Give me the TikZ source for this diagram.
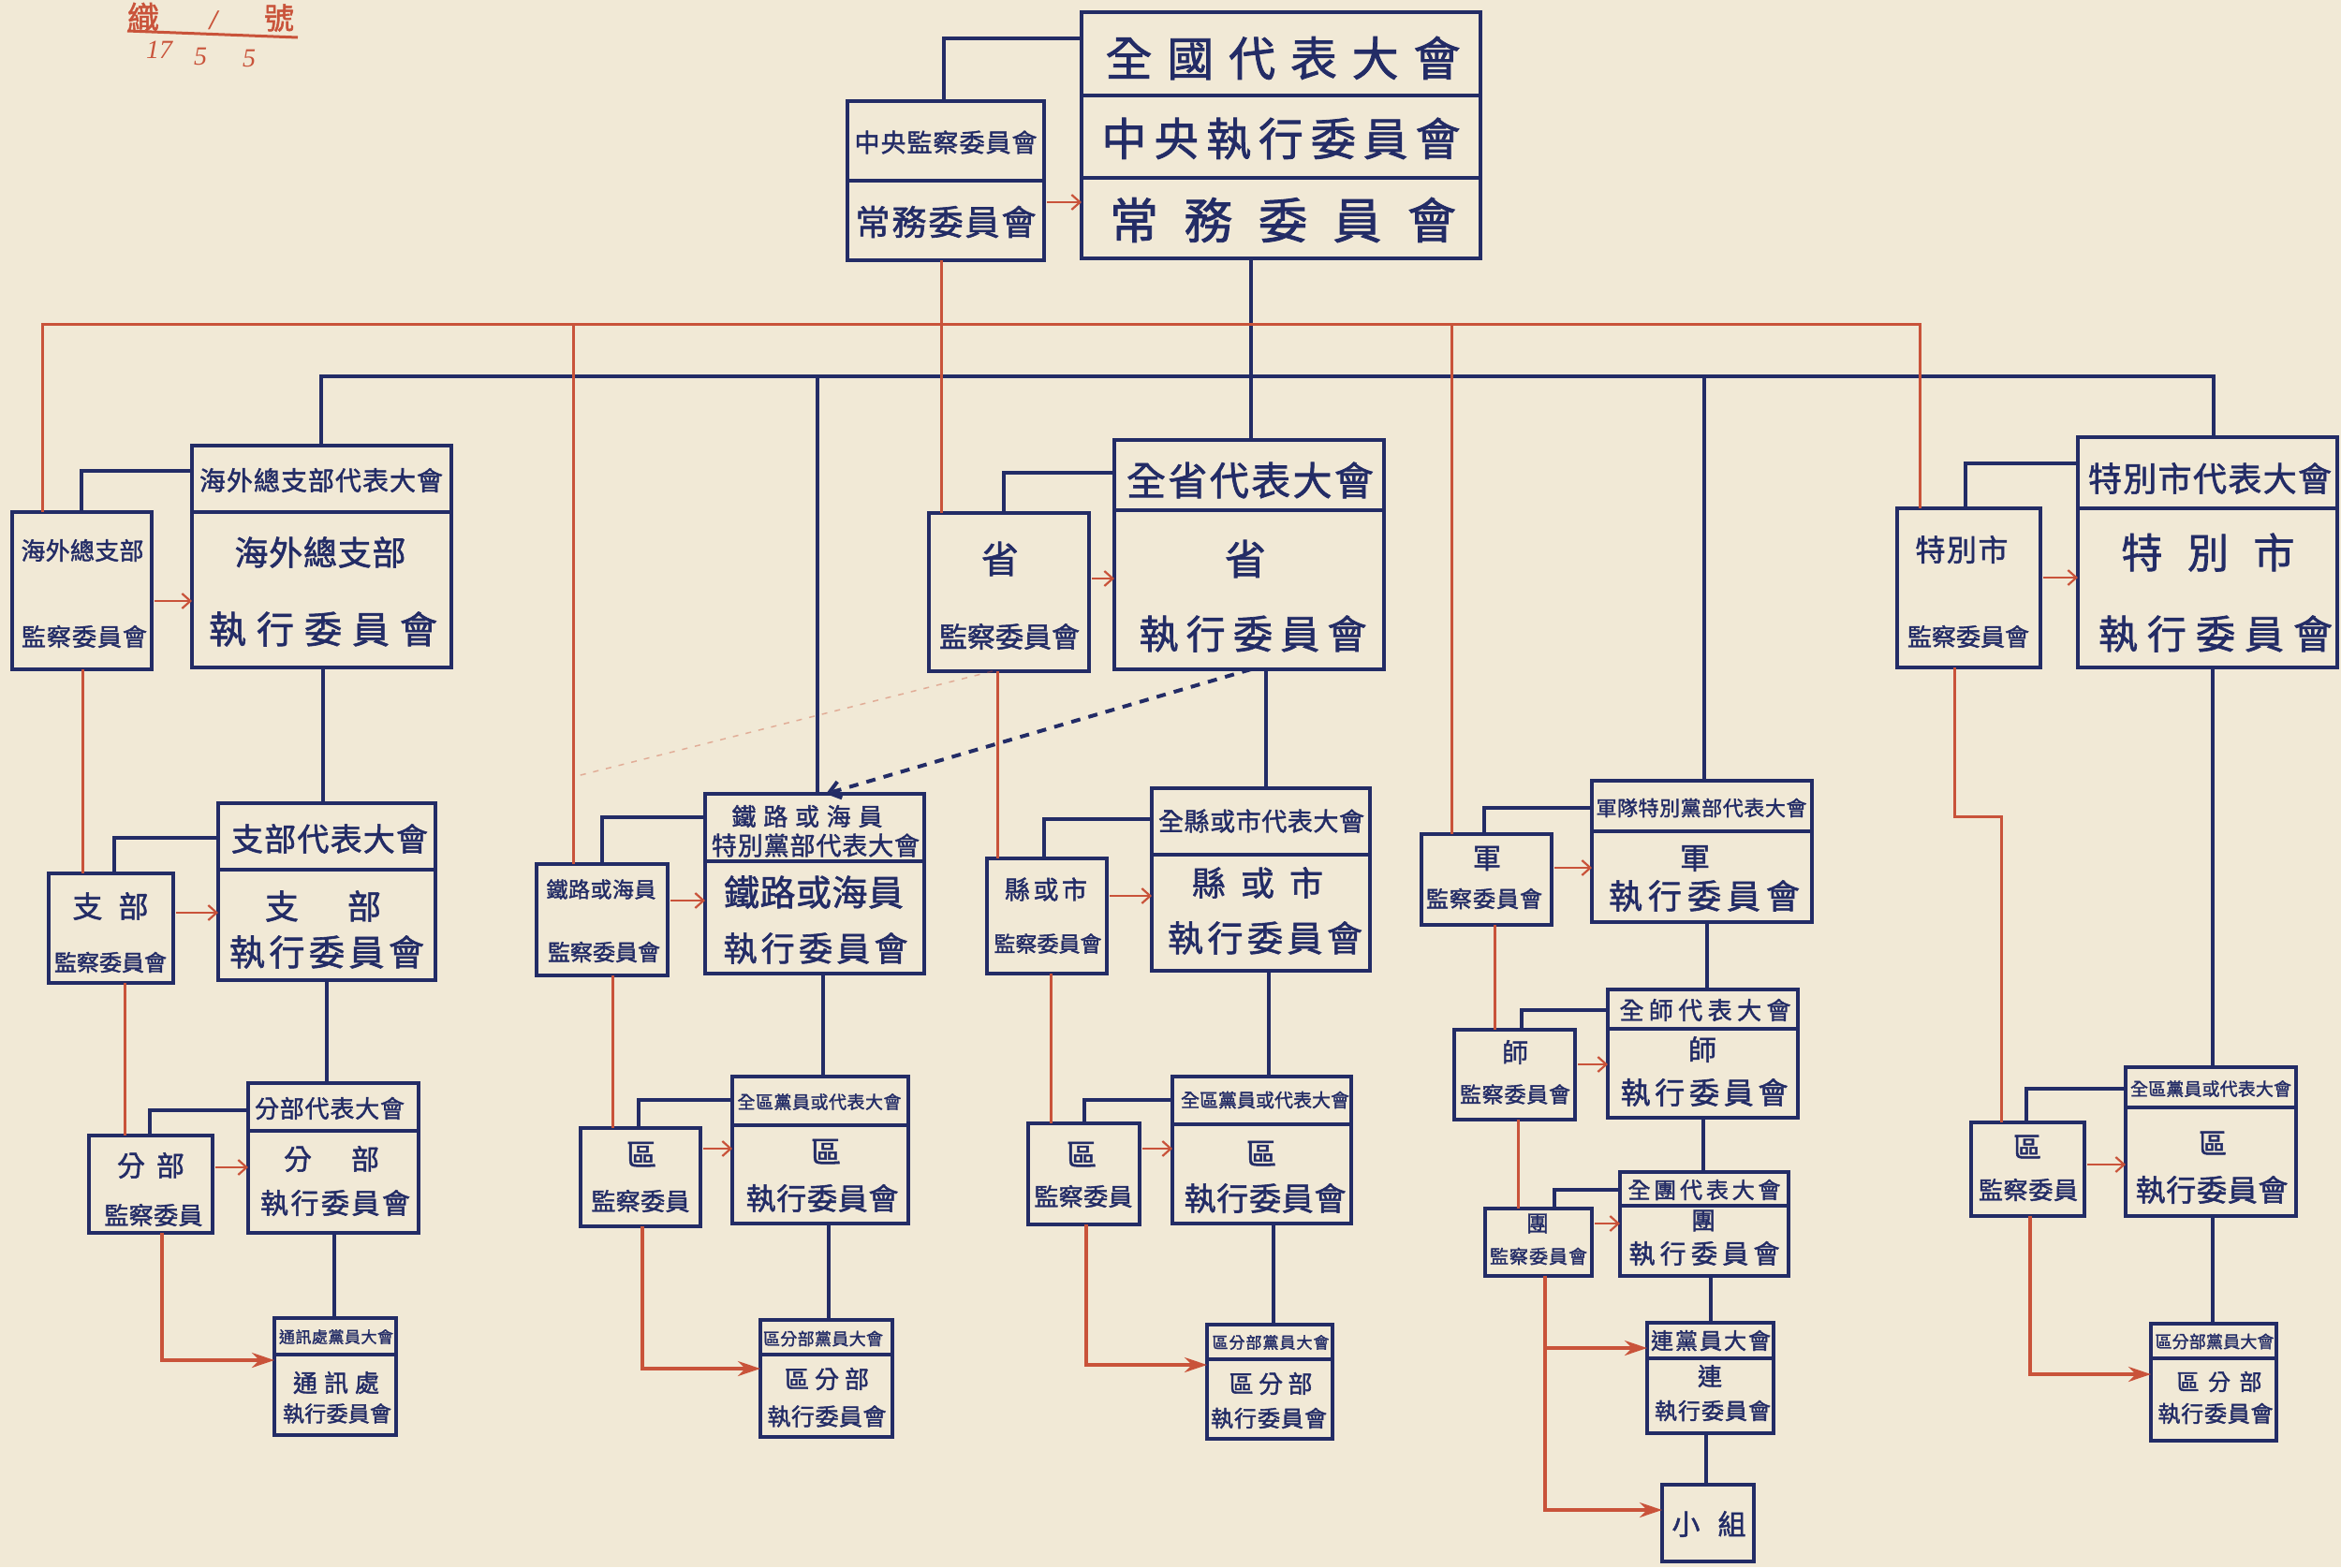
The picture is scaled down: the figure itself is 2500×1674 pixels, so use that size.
\documentclass[tikz,border=0pt]{standalone}
\usepackage{fontspec}
\setmainfont{Liberation Serif}
\newfontfamily\cjk{Noto Sans CJK TC}[FakeBold=1.6]
\usetikzlibrary{fit,arrows.meta}
\definecolor{paper}{HTML}{F1E9D6}
\definecolor{ink}{HTML}{232C66}
\definecolor{rd}{HTML}{C9533A}
\def\spreadloop#1{\ifx#1\relax\else\hfil#1\expandafter\spreadloop\fi}
\def\spreadfirst#1{#1\spreadloop}
\newcommand\spr[2]{\makebox[#1][s]{\spreadfirst#2\relax}}
\newcounter{tnum}
\newcommand\tx[5]{\stepcounter{tnum}\node[txt] (t\arabic{tnum}) at (#1,#2) {\fontsize{#3pt}{#3pt}\selectfont\spr{#4pt}{#5}};}
\newcommand\tc[4]{\stepcounter{tnum}\node[txt] (t\arabic{tnum}) at (#1,#2) {\fontsize{#3pt}{#3pt}\selectfont #4};}
\newcommand\bx[5]{\coordinate (#1-nw) at (#2,#3); \coordinate (#1-se) at (#4,#5); \node[bxs, fit=(#1-nw)(#1-se)] (#1) {};}
\tikzset{
 bxs/.style={draw=ink, line width=4pt, inner sep=0pt, outer sep=0pt},
 txt/.style={text=ink, inner sep=0pt, font=\cjk, anchor=center},
 stamp/.style={text=rd, inner sep=0pt, anchor=center},
 bl/.style={draw=ink, line width=3.5pt},
 rl/.style={draw=rd, line width=3pt},
 ra/.style={draw=rd, line width=2.2pt, shorten <=3pt, -{Straight Barb[length=9pt,width=16pt]}},
 rb/.style={draw=rd, line width=3.5pt, -{Stealth[length=24pt,width=16pt]}},
 dl/.style={draw=ink, line width=4pt, dash pattern=on 10pt off 9pt, -{Straight Barb[length=12pt,width=18pt]}},
}
\begin{document}
\begin{tikzpicture}[x=1pt,y=-1pt]
\useasboundingbox (0,0) rectangle (2500,1674);
\fill[paper] (0,0) rectangle (2500,1674);

% ---------- boxes ----------
\bx{T1}{1155}{13}{1581}{102}
\bx{T2}{1155}{102}{1581}{190}
\bx{T3}{1155}{190}{1581}{276}
\bx{C1}{905}{108}{1115}{193}
\bx{C2}{905}{193}{1115}{278}

\bx{Os}{13}{547}{162}{715}
\bx{Oh}{205}{476}{482}{547}
\bx{Ob}{205}{547}{482}{713}

\bx{Bs}{52}{933}{185}{1050}
\bx{Bh}{233}{858}{465}{929}
\bx{Bb}{233}{929}{465}{1047}

\bx{Fs}{95}{1213}{227}{1317}
\bx{Fh}{265}{1157}{447}{1208}
\bx{Fb}{265}{1208}{447}{1317}

\bx{Wh}{293}{1408}{423}{1447}
\bx{Wb}{293}{1447}{423}{1533}

\bx{Rs}{573}{923}{713}{1042}
\bx{Rh}{753}{848}{987}{920}
\bx{Rb}{753}{920}{987}{1040}

\bx{Qs}{620}{1205}{748}{1310}
\bx{Qh}{782}{1150}{970}{1202}
\bx{Qb}{782}{1202}{970}{1307}

\bx{Qdh}{812}{1410}{953}{1447}
\bx{Qdb}{812}{1447}{953}{1535}

\bx{Ps}{992}{548}{1163}{717}
\bx{Ph}{1190}{470}{1478}{545}
\bx{Pb}{1190}{545}{1478}{715}

\bx{Ks}{1054}{917}{1182}{1040}
\bx{Kh}{1230}{842}{1463}{913}
\bx{Kb}{1230}{913}{1463}{1037}

\bx{Ls}{1098}{1200}{1217}{1308}
\bx{Lh}{1252}{1150}{1443}{1201}
\bx{Lb}{1252}{1201}{1443}{1307}

\bx{Ldh}{1289}{1415}{1423}{1452}
\bx{Ldb}{1289}{1452}{1423}{1537}

\bx{As}{1518}{891}{1657}{988}
\bx{Ah}{1700}{834}{1935}{888}
\bx{Ab}{1700}{888}{1935}{985}

\bx{Ds}{1553}{1100}{1682}{1196}
\bx{Dh}{1717}{1057}{1920}{1099}
\bx{Db}{1717}{1099}{1920}{1194}

\bx{Es}{1586}{1291}{1700}{1363}
\bx{Eh}{1730}{1252}{1910}{1288}
\bx{Eb}{1730}{1288}{1910}{1363}

\bx{Gh}{1759}{1413}{1894}{1451}
\bx{Gb}{1759}{1451}{1894}{1531}

\bx{X}{1775}{1586}{1873}{1668}

\bx{Ss}{2026}{543}{2179}{713}
\bx{Sh}{2219}{467}{2496}{543}
\bx{Sb}{2219}{543}{2496}{713}

\bx{Vs}{2105}{1199}{2226}{1299}
\bx{Vh}{2270}{1140}{2452}{1183}
\bx{Vb}{2270}{1183}{2452}{1299}

\bx{Vdh}{2297}{1414}{2431}{1451}
\bx{Vdb}{2297}{1451}{2431}{1539}

% ---------- buses ----------
\coordinate (bbL) at (343,402);
\coordinate (bbR) at (2364,402);
\coordinate (rbL) at (45,346);
\coordinate (rbR) at (2050,346);
\draw[bl] (Oh.north -| bbL) -- (bbL) -- (bbR) -- (Sh.north -| bbR);
\draw[bl] (Rh.north -| 873,0) -- (bbL -| 873,0);
\draw[bl] (Ah.north -| 1820,0) -- (bbL -| 1820,0);
\draw[bl] (T3.south -| 1336,0) -- (Ph.north -| 1336,0);
\draw[rl] (Os.north -| rbL) -- (rbL) -- (rbR) -- (Ss.north -| rbR);
\draw[rl] (Rs.north -| 612,0) -- (rbL -| 612,0);
\draw[rl] (As.north -| 1550,0) -- (rbL -| 1550,0);
\draw[rl] (C2.south -| 1005,0) -- (Ps.north -| 1005,0);

% ---------- blue brackets ----------
\draw[bl] (C1.north -| 1008,0) |- (T1.west |- 0,41);
\draw[bl] (Os.north -| 87,0) |- (Oh.west |- 0,503);
\draw[bl] (Bs.north -| 122,0) |- (Bh.west |- 0,895);
\draw[bl] (Fs.north -| 160,0) |- (Fh.west |- 0,1186);
\draw[bl] (Rs.north -| 643,0) |- (Rh.west |- 0,873);
\draw[bl] (Qs.north -| 682,0) |- (Qh.west |- 0,1175);
\draw[bl] (Ps.north -| 1072,0) |- (Ph.west |- 0,505);
\draw[bl] (Ks.north -| 1115,0) |- (Kh.west |- 0,875);
\draw[bl] (Ls.north -| 1158,0) |- (Lh.west |- 0,1175);
\draw[bl] (As.north -| 1585,0) |- (Ah.west |- 0,863);
\draw[bl] (Ds.north -| 1625,0) |- (Dh.west |- 0,1079);
\draw[bl] (Es.north -| 1660,0) |- (Eh.west |- 0,1271);
\draw[bl] (Ss.north -| 2099,0) |- (Sh.west |- 0,495);
\draw[bl] (Vs.north -| 2164,0) |- (Vh.west |- 0,1163);

% ---------- blue verticals ----------
\draw[bl] (Ob.south -| 345,0) -- (Bh.north -| 345,0);
\draw[bl] (Bb.south -| 349,0) -- (Fh.north -| 349,0);
\draw[bl] (Fb.south -| 357,0) -- (Wh.north -| 357,0);
\draw[bl] (Rb.south -| 879,0) -- (Qh.north -| 879,0);
\draw[bl] (Qb.south -| 885,0) -- (Qdh.north -| 885,0);
\draw[bl] (Pb.south -| 1352,0) -- (Kh.north -| 1352,0);
\draw[bl] (Kb.south -| 1355,0) -- (Lh.north -| 1355,0);
\draw[bl] (Lb.south -| 1360,0) -- (Ldh.north -| 1360,0);
\draw[bl] (Ab.south -| 1823,0) -- (Dh.north -| 1823,0);
\draw[bl] (Db.south -| 1819,0) -- (Eh.north -| 1819,0);
\draw[bl] (Eb.south -| 1827,0) -- (Gh.north -| 1827,0);
\draw[bl] (Gb.south -| 1822,0) -- (X.north -| 1822,0);
\draw[bl] (Sb.south -| 2363,0) -- (Vh.north -| 2363,0);
\draw[bl] (Vb.south -| 2363,0) -- (Vdh.north -| 2363,0);
\draw[dl] (Pb.south -| 1336,0) -- (Rh.north -| 882,0);

% ---------- red lines ----------
\coordinate (fr) at (612,830);
\draw[draw=rd, line width=1.5pt, dash pattern=on 6pt off 8pt, opacity=.4] (Ps.south -| 1060,0) -- (fr);
\draw[rl] (Os.south -| 88,0) -- (Bs.north -| 88,0);
\draw[rl] (Bs.south -| 133,0) -- (Fs.north -| 133,0);
\draw[rb] (Fs.south -| 173,0) |- (Wb.west |- 0,1453);
\draw[rl] (Rs.south -| 654,0) -- (Qs.north -| 654,0);
\draw[rb] (Qs.south -| 686,0) |- (Qdb.west |- 0,1462);
\draw[rl] (Ps.south -| 1065,0) -- (Ks.north -| 1065,0);
\draw[rl] (Ks.south -| 1122,0) -- (Ls.north -| 1122,0);
\draw[rb] (Ls.south -| 1160,0) |- (Ldb.west |- 0,1458);
\draw[rl] (As.south -| 1596,0) -- (Ds.north -| 1596,0);
\draw[rl] (Ds.south -| 1621,0) -- (Es.north -| 1621,0);
\draw[rb] (Es.south -| 1650,0) |- (X.west |- 0,1613);
\coordinate (jE) at (1650,1440);
\draw[rb] (jE) -- (Gh.west |- jE);
\coordinate (jS) at (2087,872);
\draw[rl] (Ss.south -| jS) -- (jS) -| (Vs.north -| 2137,0);
\draw[rb] (Vs.south -| 2168,0) |- (Vdb.west |- 0,1468);

% ---------- red short arrows ----------
\draw[ra] (C2.east |- 0,216) -- (T3.west |- 0,216);
\draw[ra] (Os.east |- 0,642) -- (Ob.west |- 0,642);
\draw[ra] (Bs.east |- 0,975) -- (Bb.west |- 0,975);
\draw[ra] (Fs.east |- 0,1247) -- (Fb.west |- 0,1247);
\draw[ra] (Rs.east |- 0,962) -- (Rb.west |- 0,962);
\draw[ra] (Qs.east |- 0,1227) -- (Qb.west |- 0,1227);
\draw[ra] (Ps.east |- 0,618) -- (Pb.west |- 0,618);
\draw[ra] (Ks.east |- 0,957) -- (Kb.west |- 0,957);
\draw[ra] (Ls.east |- 0,1227) -- (Lb.west |- 0,1227);
\draw[ra] (As.east |- 0,927) -- (Ab.west |- 0,927);
\draw[ra] (Ds.east |- 0,1137) -- (Db.west |- 0,1137);
\draw[ra] (Es.east |- 0,1307) -- (Eb.west |- 0,1307);
\draw[ra] (Ss.east |- 0,617) -- (Sb.west |- 0,617);
\draw[ra] (Vs.east |- 0,1244) -- (Vb.west |- 0,1244);

% ---------- texts ----------
\tx{1370}{62}{50}{379}{全國代表大會}
\tx{1368}{148}{48}{383}{中央執行委員會}
\tx{1370}{235}{52}{370}{常務委員會}
\tx{1010}{152}{27}{195}{中央監察委員會}
\tx{1010}{237}{37}{193}{常務委員會}

\tx{88}{588}{26}{131}{海外總支部}
\tx{90}{680}{26}{134}{監察委員會}
\tx{343}{513}{28}{260}{海外總支部代表大會}
\tx{342}{590}{36}{183}{海外總支部}
\tx{345}{672}{40}{244}{執行委員會}

\tx{118}{968}{32}{81}{支部}
\tx{118}{1028}{24}{120}{監察委員會}
\tx{352}{896}{34}{210}{支部代表大會}
\tx{345}{968}{36}{124}{支部}
\tx{349}{1017}{38}{208}{執行委員會}

\tx{161}{1245}{30}{72}{分部}
\tx{164}{1298}{26}{105}{監察委員}
\tx{352}{1184}{26}{160}{分部代表大會}
\tx{354}{1238}{30}{102}{分部}
\tx{358}{1285}{30}{160}{執行委員會}

\tx{359}{1428}{17}{122}{通訊處黨員大會}
\tx{359}{1477}{26}{92}{通訊處}
\tx{360}{1510}{23}{116}{執行委員會}

\tx{642}{950}{23}{117}{鐵路或海員}
\tx{645}{1017}{24}{120}{監察委員會}
\tx{862}{872}{26}{161}{鐵路或海員}
\tx{871}{903}{27}{222}{特別黨部代表大會}
\tx{869}{953}{38}{192}{鐵路或海員}
\tx{871}{1013}{36}{197}{執行委員會}

\tc{685}{1233}{32}{區}
\tx{684}{1283}{26}{105}{監察委員}
\tx{875}{1177}{19}{175}{全區黨員或代表大會}
\tc{882}{1230}{32}{區}
\tx{878}{1280}{32}{163}{執行委員會}

\tx{879}{1430}{18}{128}{區分部黨員大會}
\tx{883}{1473}{26}{90}{區分部}
\tx{883}{1513}{25}{127}{執行委員會}

\tc{1068}{597}{40}{省}
\tx{1078}{680}{30}{150}{監察委員會}
\tx{1335}{513}{42}{264}{全省代表大會}
\tc{1330}{597}{44}{省}
\tx{1338}{677}{42}{243}{執行委員會}

\tx{1117}{950}{27}{88}{縣或市}
\tx{1119}{1008}{23}{115}{監察委員會}
\tx{1347}{877}{27}{220}{全縣或市代表大會}
\tx{1343}{943}{36}{140}{縣或市}
\tx{1351}{1002}{38}{208}{執行委員會}

\tc{1155}{1233}{32}{區}
\tx{1157}{1278}{26}{105}{監察委員}
\tx{1351}{1175}{20}{180}{全區黨員或代表大會}
\tc{1347}{1232}{32}{區}
\tx{1351}{1280}{34}{173}{執行委員會}

\tx{1357}{1434}{17}{125}{區分部黨員大會}
\tx{1357}{1478}{26}{89}{區分部}
\tx{1355}{1515}{24}{124}{執行委員會}

\tc{1588}{917}{30}{軍}
\tx{1585}{960}{24}{124}{監察委員會}
\tx{1817}{863}{22}{225}{軍隊特別黨部代表大會}
\tc{1810}{917}{32}{軍}
\tx{1820}{957}{36}{204}{執行委員會}

\tc{1618}{1124}{28}{師}
\tx{1618}{1169}{23}{118}{監察委員會}
\tx{1821}{1079}{26}{183}{全師代表大會}
\tc{1818}{1121}{30}{師}
\tx{1820}{1167}{32}{179}{執行委員會}

\tc{1642}{1307}{24}{團}
\tx{1643}{1342}{20}{104}{監察委員會}
\tx{1820}{1271}{24}{163}{全團代表大會}
\tc{1819}{1304}{26}{團}
\tx{1820}{1339}{28}{161}{執行委員會}

\tx{1827}{1432}{24}{128}{連黨員大會}
\tc{1826}{1470}{26}{連}
\tx{1829}{1507}{24}{124}{執行委員會}

\tx{1825}{1628}{30}{79}{小組}

\tx{2095}{587}{32}{99}{特別市}
\tx{2102}{680}{26}{130}{監察委員會}
\tx{2360}{511}{36}{260}{特別市代表大會}
\tx{2358}{590}{44}{185}{特別市}
\tx{2366}{677}{42}{250}{執行委員會}

\tc{2165}{1225}{30}{區}
\tx{2166}{1271}{26}{106}{監察委員}
\tx{2361}{1163}{19}{172}{全區黨員或代表大會}
\tc{2363}{1221}{30}{區}
\tx{2362}{1271}{32}{163}{執行委員會}

\tx{2365}{1433}{18}{127}{區分部黨員大會}
\tx{2370}{1476}{24}{91}{區分部}
\tx{2366}{1510}{24}{123}{執行委員會}

% ---------- stamp ----------
\node[stamp, font=\cjk\fontsize{34pt}{34pt}\selectfont] (s1) at (153,18) {織};
\node[stamp, font=\bfseries\itshape\fontsize{30pt}{30pt}\selectfont] (s2) at (228,22) {/};
\node[stamp, font=\cjk\fontsize{32pt}{32pt}\selectfont] (s3) at (298,19) {號};
\coordinate (ulA) at (136,33);
\coordinate (ulB) at (318,40);
\draw[rd, line width=3pt] (ulA) -- (ulB);
\node[stamp, font=\itshape\fontsize{28pt}{28pt}\selectfont] (s4) at (170,53) {17};
\node[stamp, font=\itshape\fontsize{28pt}{28pt}\selectfont] (s5) at (214,60) {5};
\node[stamp, font=\itshape\fontsize{28pt}{28pt}\selectfont] (s6) at (266,62) {5};
\end{tikzpicture}
\end{document}
